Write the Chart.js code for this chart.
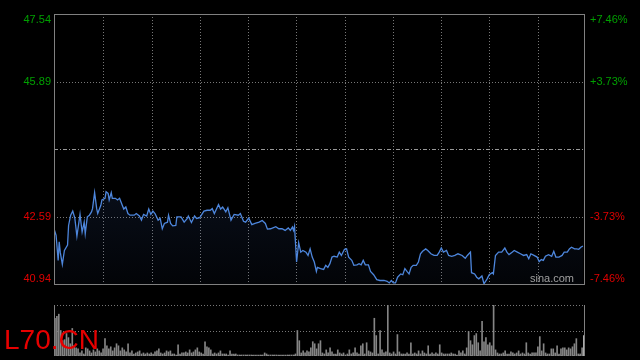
<!DOCTYPE html>
<html lang="zh-CN">
<head>
<meta charset="UTF-8">
<title>L70.CN</title>
<script src="https://cdn.jsdelivr.net/npm/chart.js"></script>
<style>
    html, body { margin: 0; padding: 0; background: #000; }
    #wrap { position: relative; width: 640px; height: 360px; background: #000; overflow: hidden; }
    #priceChart { position: absolute; left: 0; top: 0; }
    #volChart { position: absolute; left: 0; top: 300px; }
    #code {
        position: absolute; left: 4px; top: 326px;
        color: #e60000; font: 28px "Liberation Sans", Arial, sans-serif; line-height: 28px;
    }
</style>
</head>
<body>
<div id="wrap">
    <canvas id="priceChart" width="640" height="300"></canvas>
    <canvas id="volChart" width="640" height="60"></canvas>
    <div id="code">L70.CN</div>
</div>
<script>
// minutes since the open, and last price at that minute
const minutes = [0,2,4,5,6,8,10,13,14,16,
    18,20,22,25,27,29,30,32,34,36,
    37,39,41,42,45,46,49,50,52,53,
    55,56,59,61,63,65,67,69,71,73,
    77,79,82,84,86,89,91,93,95,97,
    100,102,104,106,109,110,112,114,117,118,
    122,125,128,129,132,135,137,140,144,147,
    150,152,154,158,160,162,165,167,170,173,
    177,179,182,184,187,190,193,197,200,203,
    205,208,213,216,219,222,225,227,229,230,
    231,233,235,237,239,242,244,246,248,250,
    252,253,256,259,261,263,265,267,269,272,
    274,276,279,281,283,286,288,291,293,295,
    297,299,302,304,307,310,313,317,320,322,
    324,326,328,330,333,335,337,339,341,343,
    345,348,350,352,354,357,359,362,365,368,
    370,372,374,377,379,382,385,388,392,395,
    397,400,401,404,406,408,411,413,416,418,
    421,422,424,427,430,433,435,437,440,442,
    445,448,451,454,456,458,461,464,466,468,
    470,472,475,478,480,482,485,488,490,493,
    495,497,500,502,504,506,508];
const prices = [42.31,42.15,41.54,41.99,41.74,41.44,41.78,41.91,42.39,42.64,
    42.74,42.57,42.13,42.66,42.23,42.47,42.19,42.60,42.64,42.72,
    42.80,43.19,42.80,42.68,42.88,43.01,43.05,43.21,43.17,43.01,
    43.19,43.05,43.05,43.01,43.05,42.92,42.79,42.84,42.68,42.64,
    42.64,42.68,42.62,42.52,42.66,42.62,42.79,42.66,42.74,42.68,
    42.52,42.56,42.31,42.44,42.47,42.64,42.44,42.38,42.39,42.60,
    42.60,42.47,42.56,42.62,42.46,42.62,42.56,42.58,42.74,42.76,
    42.76,42.80,42.68,42.90,42.79,42.84,42.72,42.82,42.52,42.66,
    42.64,42.68,42.49,42.47,42.57,42.41,42.44,42.47,42.51,42.44,
    42.30,42.31,42.36,42.31,42.31,42.27,42.33,42.27,42.35,42.27,
    42.37,41.50,41.97,41.74,41.78,41.74,41.66,41.82,41.62,41.50,
    41.27,41.37,41.34,41.32,41.42,41.37,41.46,41.62,41.64,41.62,
    41.74,41.66,41.81,41.82,41.62,41.54,41.42,41.43,41.46,41.43,
    41.54,41.43,41.43,41.27,41.19,41.07,41.05,41.05,41.03,40.99,
    41.05,40.99,40.99,41.13,41.21,41.19,41.34,41.27,41.21,41.37,
    41.42,41.42,41.50,41.70,41.76,41.82,41.78,41.70,41.66,41.66,
    41.74,41.84,41.74,41.78,41.66,41.64,41.66,41.70,41.66,41.59,
    41.66,41.74,41.24,41.21,41.13,41.09,41.16,40.97,41.09,41.19,
    41.24,41.21,41.66,41.74,41.74,41.84,41.74,41.68,41.74,41.78,
    41.74,41.70,41.66,41.68,41.58,41.70,41.66,41.62,41.51,41.56,
    41.54,41.64,41.68,41.64,41.76,41.62,41.62,41.66,41.74,41.74,
    41.82,41.86,41.82,41.82,41.81,41.86,41.89];

// volume per bar (panel full scale = 50)
const volumes = [37,39,41,25,15,16,22,18,12,27,
    10,8,7,3,5,2,8,7,5,3,
    6,4,7,5,3,7,17,10,7,9,
    5,8,12,10,5,8,6,4,12,3,
    5,2,3,4,5,2,3,2,3,2,3,2,
    4,5,7,3,2,3,5,4,5,2,
    2,1,11,2,3,3,4,3,6,3,
    4,6,8,4,3,2,14,9,8,6,2,3,
    2,3,5,2,2,2,1,5,2,2,
    2,1,1,1,1,1,1,1,1,1,1,1,1,
    1,1,3,2,1,1,1,1,1,1,
    1,1,1,1,1,1,1,1,2,25,
    15,3,5,3,5,4,8,14,12,7,
    12,
    15,3,2,6,3,8,4,2,2,6,
    3,2,3,1,2,6,2,3,8,3,
    2,10,12,2,13,5,4,3,37,20,
    2,25,6,3,4,55,3,2,4,2,
    21,4,2,2,2,3,2,13,2,3,
    2,5,2,5,3,2,10,2,3,2,
    3,2,11,3,2,2,2,2,3,2,
    2,1,5,3,5,2,8,24,15,11,
    20,22,13,5,34,14,18,11,13,10,
    55,6,3,2,2,3,5,2,2,4,
    3,2,3,5,2,3,2,13,3,2,
    3,3,3,9,19,5,12,3,2,2,
    7,7,3,10,2,7,8,8,6,8,
    7,9,12,17,2,2,8,20];

const sessionMinutes = 510;
const prevClose = 44.24;
const priceTicks = [47.54, 45.89, 42.59, 40.94];
const leftLabels = ['47.54', '45.89', '42.59', '40.94'];
const rightLabels = ['+7.46%', '+3.73%', '-3.73%', '-7.46%'];
const gridColumns = 11;

const GREEN = '#00a000';
const RED = '#e00000';
const FONT = '11px "Liberation Sans", Arial, sans-serif';

const priceFrame = {
    id: 'priceFrame',
    beforeDatasetsDraw(chart) {
        const { ctx, chartArea: a, scales: { y } } = chart;
        ctx.save();
        ctx.lineWidth = 1;
        ctx.strokeStyle = '#777';
        ctx.setLineDash([1, 2]);
        for (let i = 1; i < gridColumns; i++) {
            const x = Math.round(a.left + a.width * i / gridColumns) + 1.5;
            ctx.beginPath();
            ctx.moveTo(x, a.top);
            ctx.lineTo(x, a.bottom);
            ctx.stroke();
        }
        [priceTicks[1], priceTicks[2]].forEach(v => {
            const py = Math.round(y.getPixelForValue(v)) + 0.5;
            ctx.beginPath();
            ctx.moveTo(a.left, py);
            ctx.lineTo(a.right, py);
            ctx.stroke();
        });
        ctx.strokeStyle = '#999';
        ctx.setLineDash([4, 2, 1, 2]);
        const my = Math.round(y.getPixelForValue(prevClose)) + 0.5;
        ctx.beginPath();
        ctx.moveTo(a.left, my);
        ctx.lineTo(a.right, my);
        ctx.stroke();
        ctx.restore();
    },
    afterDatasetsDraw(chart) {
        const { ctx, chartArea: a, scales: { y } } = chart;
        ctx.save();
        ctx.strokeStyle = '#808080';
        ctx.lineWidth = 1;
        ctx.strokeRect(a.left + 0.5, a.top + 0.5, a.width - 1, a.height - 1);

        ctx.font = FONT;
        ctx.textBaseline = 'middle';
        priceTicks.forEach((v, i) => {
            let py = y.getPixelForValue(v);
            if (i === 0) py += 6;
            if (i === priceTicks.length - 1) py -= 6;
            ctx.fillStyle = v > prevClose ? GREEN : RED;
            ctx.textAlign = 'right';
            ctx.fillText(leftLabels[i], a.left - 3, py);
            ctx.textAlign = 'left';
            ctx.fillText(rightLabels[i], a.right + 5, py);
        });

        ctx.fillStyle = '#a0a0a0';
        ctx.textAlign = 'right';
        ctx.fillText('sina.com', a.right - 11, a.bottom - 6);
        ctx.restore();
    }
};

new Chart(document.getElementById('priceChart'), {
    type: 'line',
    data: {
        datasets: [{
            data: minutes.map((m, i) => ({ x: m, y: prices[i] })),
            borderColor: '#4d86dc',
            borderWidth: 1.3,
            pointRadius: 0,
            tension: 0,
            fill: 'start',
            backgroundColor: ctx => {
                const a = ctx.chart.chartArea;
                if (!a) return 'rgba(40,70,130,0.1)';
                const g = ctx.chart.ctx.createLinearGradient(0, a.top, 0, a.bottom);
                g.addColorStop(0, 'rgba(60,100,180,0.32)');
                g.addColorStop(1, 'rgba(60,100,180,0.04)');
                return g;
            }
        }]
    },
    options: {
        responsive: false,
        animation: false,
        devicePixelRatio: 1,
        layout: { padding: { left: 54, top: 14, right: 55, bottom: 15 } },
        plugins: { legend: { display: false }, tooltip: { enabled: false } },
        scales: {
            x: { type: 'linear', min: 0, max: sessionMinutes, display: false },
            y: { min: priceTicks[3], max: priceTicks[0], display: false }
        }
    },
    plugins: [priceFrame]
});

const volFrame = {
    id: 'volFrame',
    beforeDatasetsDraw(chart) {
        const { ctx, chartArea: a } = chart;
        ctx.save();
        ctx.strokeStyle = '#777';
        ctx.lineWidth = 1;
        ctx.setLineDash([1, 2]);
        [a.top, (a.top + a.bottom) / 2, a.bottom - 1].forEach(v => {
            const py = Math.round(v) + 0.5;
            ctx.beginPath();
            ctx.moveTo(a.left, py);
            ctx.lineTo(a.right, py);
            ctx.stroke();
        });
        ctx.restore();
    },
    afterDatasetsDraw(chart) {
        const { ctx, chartArea: a } = chart;
        ctx.save();
        ctx.strokeStyle = '#808080';
        ctx.lineWidth = 1;
        [a.left + 0.5, a.right - 0.5].forEach(x => {
            ctx.beginPath();
            ctx.moveTo(x, a.top);
            ctx.lineTo(x, a.bottom);
            ctx.stroke();
        });
        ctx.restore();
    }
};

new Chart(document.getElementById('volChart'), {
    type: 'bar',
    data: {
        labels: volumes.map((v, i) => i),
        datasets: [{
            data: volumes,
            barThickness: 1,
            backgroundColor: volumes.map((v, i) => i === volumes.length - 1 ? '#d8d8d8' : '#858585')
        }]
    },
    options: {
        responsive: false,
        animation: false,
        devicePixelRatio: 1,
        layout: { padding: { left: 54, top: 5, right: 55, bottom: 4 } },
        plugins: { legend: { display: false }, tooltip: { enabled: false } },
        scales: {
            x: { display: false },
            y: { min: 0, max: 50, display: false }
        }
    },
    plugins: [volFrame]
});
</script>
</body>
</html>
